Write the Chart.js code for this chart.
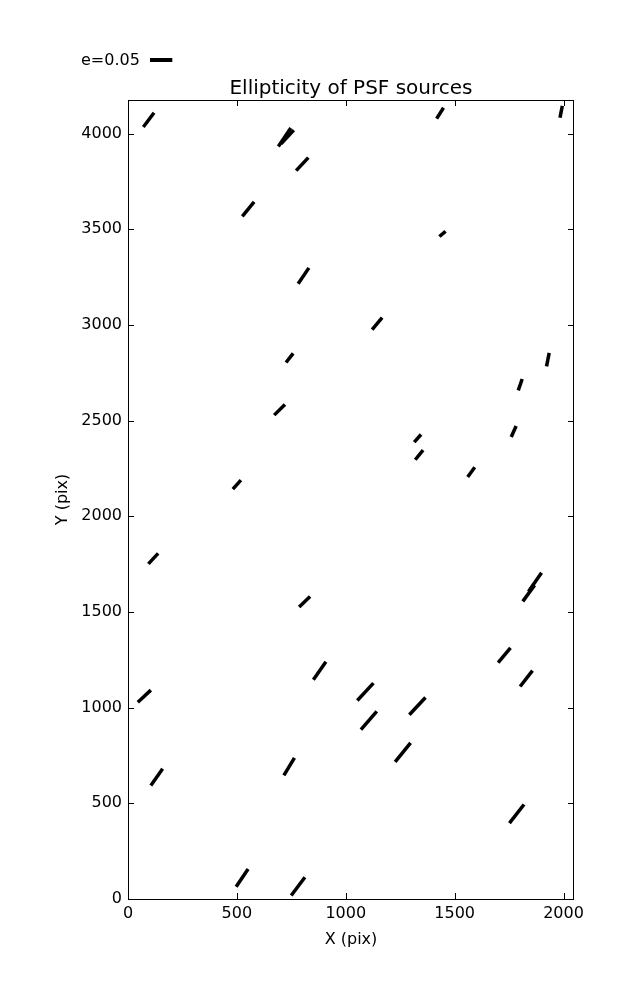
<!DOCTYPE html>
<html>
<head>
<meta charset="utf-8">
<title>Ellipticity of PSF sources</title>
<script src="https://cdn.jsdelivr.net/npm/chart.js@4/dist/chart.umd.min.js"></script>
<style>
    body { margin: 0; background: #ffffff; }
    #wrap { width: 637px; height: 1000px; }
</style>
</head>
<body>
<div id="wrap"><canvas id="psfChart" width="637" height="1000"></canvas></div>
<script>
// Datos: centro de cada fuente (pix), elipticidad y ángulo (grados, antihorario)
const xCenter = [95, 719, 732, 800, 552, 806, 1433, 1989, 1444, 742, 696, 500, 1144, 1928, 1801, 1771, 1330, 1337, 1576,
                 116, 811, 880, 75, 1840, 1869, 1728, 1829, 1090, 1329, 1106, 1262, 1785, 132, 740, 524, 781];
const yCenter = [4072, 3981, 3983, 3841, 3606, 3257, 4107, 4114, 3476, 2828, 2557, 2166, 3007, 2819, 2688, 2443, 2408, 2321, 2231,
                 1779, 1554, 1193, 1060, 1598, 1656, 1274, 1152, 1083, 1008, 933, 766, 445, 637, 692, 110, 66];
const ellip = [0.040, 0.050, 0.042, 0.040, 0.042, 0.043, 0.029, 0.027, 0.018, 0.026, 0.034, 0.027, 0.035, 0.031, 0.027, 0.027, 0.023, 0.028, 0.027,
               0.032, 0.034, 0.049, 0.040, 0.045, 0.051, 0.043, 0.045, 0.053, 0.053, 0.054, 0.055, 0.053, 0.046, 0.046, 0.048, 0.051];
const angle = [53, 56, 47, 47, 51, 56, 58, 79, 40, 52, 45, 48, 50, 79, 71, 66, 48, 51, 54,
               47, 44, 55, 43, 54, 55, 50, 52, 47, 47, 49, 51, 52, 55, 59, 56, 53];

// Ticks de los ejes
const xTicks = [0, 500, 1000, 1500, 2000];
const yTicks = [0, 500, 1000, 1500, 2000, 2500, 3000, 3500, 4000];

const keyValue = 0.05;          // elipticidad de referencia
const pxPerUnitE = 446;         // largo en pixeles para e = 1
const fontFamily = '"DejaVu Sans", sans-serif';

// Marco, ticks hacia adentro, título y clave de escala
const framePlugin = {
    id: 'frame',
    afterDraw(chart) {
        const ctx = chart.ctx;
        const area = chart.chartArea;
        const xs = chart.scales.x;
        const ys = chart.scales.y;
        ctx.save();
        ctx.strokeStyle = '#000';
        ctx.lineWidth = 1;
        ctx.strokeRect(area.left + 0.5, area.top + 0.5, area.right - area.left - 1, area.bottom - area.top);

        ctx.beginPath();
        xs.ticks.forEach(t => {
            const px = Math.round(xs.getPixelForValue(t.value)) + 0.5;
            ctx.moveTo(px, area.bottom); ctx.lineTo(px, area.bottom - 6);
            ctx.moveTo(px, area.top); ctx.lineTo(px, area.top + 6);
        });
        ys.ticks.forEach(t => {
            const py = Math.round(ys.getPixelForValue(t.value)) + 0.5;
            ctx.moveTo(area.left, py); ctx.lineTo(area.left + 6, py);
            ctx.moveTo(area.right, py); ctx.lineTo(area.right - 6, py);
        });
        ctx.stroke();

        // Título
        ctx.fillStyle = '#000';
        ctx.font = '20px ' + fontFamily;
        ctx.textAlign = 'center';
        ctx.textBaseline = 'alphabetic';
        ctx.fillText('Ellipticity of PSF sources', (area.left + area.right) / 2, 94);

        // Clave: e=0.05
        ctx.font = '16px ' + fontFamily;
        ctx.textAlign = 'left';
        ctx.fillText('e=' + keyValue.toFixed(2), 81, 65);
        ctx.lineWidth = 4;
        ctx.beginPath();
        ctx.moveTo(150, 60);
        ctx.lineTo(150 + keyValue * pxPerUnitE, 60);
        ctx.stroke();
        ctx.restore();
    }
};

const ctx = document.getElementById('psfChart').getContext('2d');
const psfChart = new Chart(ctx, {
    type: 'scatter',
    data: {
        datasets: [{
            label: 'PSF',
            data: xCenter.map((x, i) => ({ x: x, y: yCenter[i] })),
            pointStyle: 'line',
            pointRadius: ellip.map(e => e * pxPerUnitE / 2),
            pointHoverRadius: ellip.map(e => e * pxPerUnitE / 2),
            pointRotation: angle.map(a => -a),
            pointBorderWidth: 3.5,
            pointHoverBorderWidth: 3.5,
            pointBorderColor: '#000',
            pointBackgroundColor: '#000'
        }]
    },
    options: {
        responsive: false,
        animation: false,
        layout: {
            padding: { top: 100, right: 63, bottom: 0, left: 0 }
        },
        plugins: {
            legend: { display: false },
            tooltip: { enabled: false },
            title: { display: false }
        },
        scales: {
            x: {
                type: 'linear',
                min: 0,
                max: 2048,
                afterFit: s => { s.height = 101; },
                afterBuildTicks: s => { s.ticks = xTicks.map(v => ({ value: v })); },
                grid: { display: false, drawTicks: false },
                border: { display: false },
                ticks: {
                    includeBounds: false,
                    padding: 5,
                    color: '#000',
                    font: { family: fontFamily, size: 16 },
                    callback: v => String(v)
                },
                title: {
                    display: true,
                    text: 'X (pix)',
                    color: '#000',
                    font: { family: fontFamily, size: 16 },
                    padding: { top: 0, bottom: 51 }
                }
            },
            y: {
                type: 'linear',
                min: 0,
                max: 4176,
                afterFit: s => { s.width = 128; },
                afterBuildTicks: s => { s.ticks = yTicks.map(v => ({ value: v })); },
                grid: { display: false, drawTicks: false },
                border: { display: false },
                ticks: {
                    includeBounds: false,
                    padding: 6,
                    color: '#000',
                    font: { family: fontFamily, size: 16 },
                    callback: v => String(v)
                },
                title: {
                    display: true,
                    text: 'Y (pix)',
                    color: '#000',
                    font: { family: fontFamily, size: 16 },
                    padding: { top: 53, bottom: 0 }
                }
            }
        }
    },
    plugins: [framePlugin]
});
</script>
</body>
</html>
